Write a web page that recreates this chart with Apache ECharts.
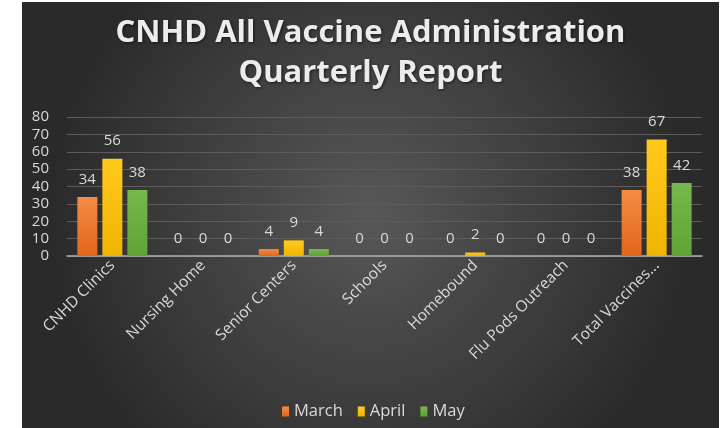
<!DOCTYPE html>
<html>
<head>
<meta charset="utf-8">
<script src="https://cdn.jsdelivr.net/npm/echarts@6/dist/echarts.min.js"></script>
<style>
  html, body { margin: 0; padding: 0; background: #ffffff; width: 727px; height: 428px; overflow: hidden; }
  #chart { position: absolute; left: 22px; top: 2px; width: 697px; height: 426px; }
</style>
</head>
<body>
<div id="chart"></div>
<script>
const categories = ['CNHD Clinics', 'Nursing Home', 'Senior Centers', 'Schools', 'Homebound', 'Flu Pods Outreach', 'Total Vaccines...'];
const march = [34, 0, 4, 0, 0, 0, 38];
const april = [56, 0, 9, 0, 2, 0, 67];
const may = [38, 0, 4, 0, 0, 0, 42];
const yTicks = { min: 0, max: 80, interval: 10 };

const chart = echarts.init(document.getElementById('chart'));
const FONT = '"Open Sans", sans-serif';
const LABEL_COLOR = '#d9d9d9';

function grad(top, bottom) {
  return new echarts.graphic.LinearGradient(0, 0, 0, 1, [
    { offset: 0, color: top }, { offset: 1, color: bottom }
  ]);
}

function barSeries(name, data, top, bottom) {
  return {
    name: name,
    type: 'bar',
    data: data,
    barWidth: 20,
    barGap: '25%',
    itemStyle: { color: grad(top, bottom) },
    label: {
      show: true,
      position: 'top',
      distance: 10,
      color: LABEL_COLOR,
      fontSize: 15,
      fontFamily: FONT
    }
  };
}

chart.setOption({
  backgroundColor: new echarts.graphic.RadialGradient(0.5, 0.5, 0.75, [
    { offset: 0, color: '#585858' },
    { offset: 1, color: '#2a2a2a' }
  ]),
  animation: false,
  title: {
    text: 'CNHD All Vaccine Administration\nQuarterly Report',
    left: 'center',
    top: 6,
    textStyle: {
      color: '#ececec',
      fontSize: 31,
      fontWeight: 'bold',
      fontFamily: FONT,
      lineHeight: 40,
      textShadowColor: 'rgba(0,0,0,0.6)',
      textShadowBlur: 3,
      textShadowOffsetX: 1,
      textShadowOffsetY: 1
    }
  },
  legend: {
    data: ['March', 'April', 'May'],
    left: 255,
    top: 396,
    icon: 'rect',
    itemWidth: 7,
    itemHeight: 10,
    itemGap: 15,
    textStyle: { color: LABEL_COLOR, fontSize: 16.5, fontFamily: FONT }
  },
  grid: { left: 45, right: 17, top: 115, bottom: 172, containLabel: false },
  xAxis: {
    type: 'category',
    data: categories,
    axisLine: { lineStyle: { color: '#b0b0b0', width: 1.5 } },
    axisTick: { show: false },
    axisLabel: {
      rotate: 45,
      color: LABEL_COLOR,
      fontSize: 15.5,
      fontFamily: FONT,
      margin: 7,
      interval: 0
    }
  },
  yAxis: {
    type: 'value',
    min: yTicks.min,
    max: yTicks.max,
    interval: yTicks.interval,
    axisLine: { show: false },
    axisTick: { show: false },
    splitLine: { lineStyle: { color: '#5c5c5c', width: 1 } },
    axisLabel: { color: LABEL_COLOR, fontSize: 15, fontFamily: FONT, margin: 18 }
  },
  series: [
    barSeries('March', march, '#f58c45', '#e0661a'),
    barSeries('April', april, '#ffca1e', '#f0b400'),
    barSeries('May', may, '#78b84c', '#5fa336')
  ]
});
</script>
</body>
</html>
